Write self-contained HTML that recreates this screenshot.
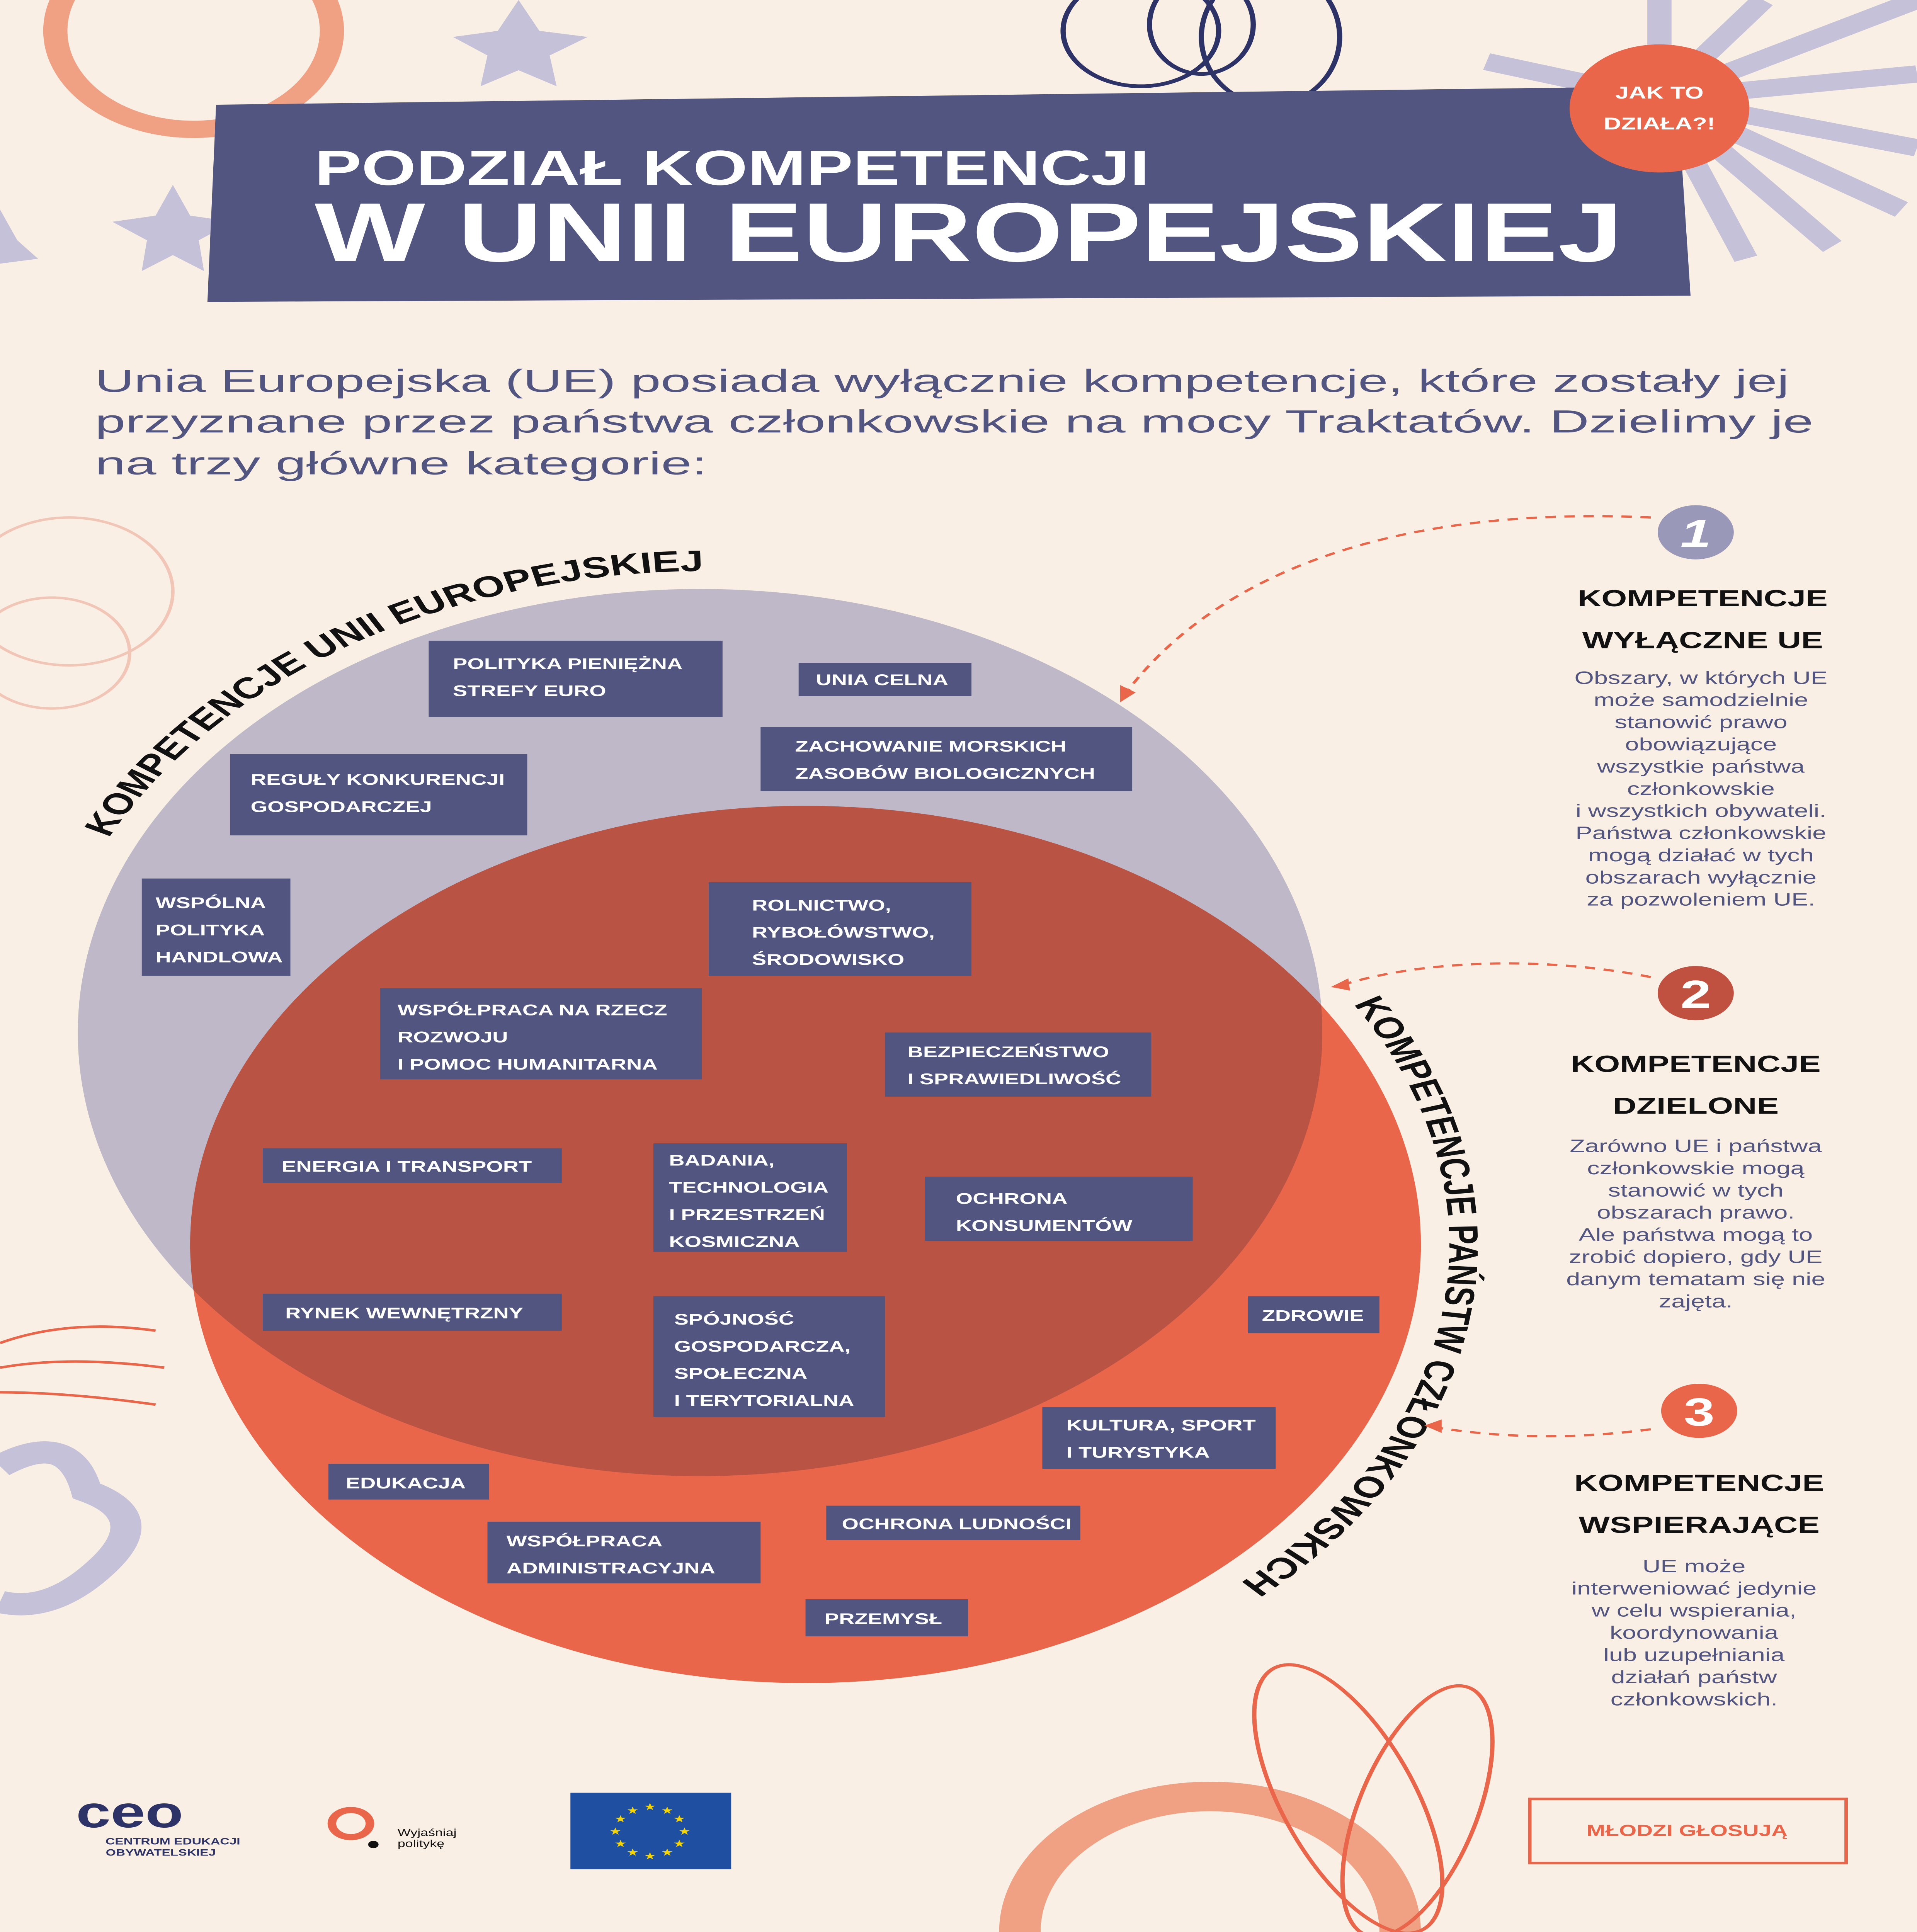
<!DOCTYPE html>
<html><head><meta charset="utf-8"><style>
html,body{margin:0;padding:0;background:#f9efe4;width:100%;height:100%;overflow:hidden;}
svg{display:block;position:absolute;left:0;top:0;width:100vw;height:100vh;}
.lb{font-family:"Liberation Sans",sans-serif;font-weight:bold;fill:#fff;font-size:12.5px;}
.hd{font-family:"Liberation Sans",sans-serif;font-weight:bold;fill:#111;font-size:19px;text-anchor:middle;}
.pt{font-family:"Liberation Sans",sans-serif;fill:#525580;font-size:14.5px;text-anchor:middle;}
</style></head><body>
<svg viewBox="0 0 1109 1568" preserveAspectRatio="none" xmlns="http://www.w3.org/2000/svg" overflow="hidden">
<defs>
<clipPath id="lav"><circle cx="405" cy="838" r="360"/></clipPath>
<path id="arcA" d="M 63 680 A 385 385 0 0 1 480 470"/>
<path id="arcB" d="M 783 815 A 372 372 0 0 1 648 1335"/>
</defs>
<rect width="1109" height="1568" fill="#f9efe4"/>
<circle cx="112" cy="25" r="80" fill="none" stroke="#f0a184" stroke-width="14"/>
<circle cx="40" cy="480" r="60" fill="none" stroke="#f2c6b6" stroke-width="2"/>
<circle cx="30" cy="530" r="45" fill="none" stroke="#f2c6b6" stroke-width="2"/>
<polygon points="300,0 312,25 340,30 318,45 322,70 300,57 278,70 282,45 262,30 288,25" fill="#c5c1d8"/>
<polygon points="0,170 10,195 22,210 0,214" fill="#c5c1d8"/>
<polygon points="100,150 110,175 135,180 115,195 118,220 100,207 82,220 85,195 65,180 90,175" fill="#c5c1d8"/>
<g stroke="#c5c1d8" stroke-width="14">
<line x1="960" y1="80" x2="1109" y2="0"/><line x1="960" y1="80" x2="1109" y2="60"/><line x1="960" y1="80" x2="1109" y2="120"/>
<line x1="960" y1="80" x2="1060" y2="200"/><line x1="960" y1="80" x2="1010" y2="210"/><line x1="960" y1="80" x2="960" y2="0"/>
<line x1="960" y1="80" x2="1020" y2="0"/><line x1="960" y1="80" x2="860" y2="50"/><line x1="960" y1="80" x2="1100" y2="170"/>
</g>
<g fill="none" stroke="#2d3366" stroke-width="3">
<ellipse cx="660" cy="25" rx="45" ry="45"/><ellipse cx="735" cy="30" rx="40" ry="55"/><ellipse cx="695" cy="20" rx="30" ry="40"/>
</g>
<path d="M0 1190 q40 -30 50 20 q40 20 10 60 q-30 40 -60 30" fill="none" stroke="#c5c1d8" stroke-width="18"/>
<g stroke="#e9664a" stroke-width="2" fill="none"><path d="M0 1090 q40 -20 90 -10"/><path d="M0 1110 q40 -10 95 0"/><path d="M0 1130 q40 0 90 10"/></g>
<circle cx="700" cy="1568" r="110" fill="none" stroke="#f0a184" stroke-width="24"/>
<ellipse cx="780" cy="1460" rx="40" ry="115" fill="none" stroke="#e9664a" stroke-width="2.5" transform="rotate(-20 780 1460)"/>
<ellipse cx="820" cy="1470" rx="35" ry="105" fill="none" stroke="#e9664a" stroke-width="2.5" transform="rotate(15 820 1470)"/>
<path d="M125 85 L970 70 L978 240 L120 245 Z" fill="#525580"/>
<text x="182" y="150" font-family="Liberation Sans,sans-serif" font-weight="bold" font-size="40" fill="#fff" textLength="483" lengthAdjust="spacingAndGlyphs">PODZIAŁ KOMPETENCJI</text>
<text x="182" y="212" font-family="Liberation Sans,sans-serif" font-weight="bold" font-size="68" fill="#fff" textLength="757" lengthAdjust="spacingAndGlyphs">W UNII EUROPEJSKIEJ</text>
<circle cx="960" cy="88" r="52" fill="#e9664a"/>
<text x="960" y="80" text-anchor="middle" font-family="Liberation Sans,sans-serif" font-weight="bold" font-size="14" fill="#fff">JAK TO</text>
<text x="960" y="105" text-anchor="middle" font-family="Liberation Sans,sans-serif" font-weight="bold" font-size="14" fill="#fff">DZIAŁA?!</text>
<g font-family="Liberation Sans,sans-serif" font-size="26" fill="#525580">
<text x="55" y="318" textLength="980" lengthAdjust="spacingAndGlyphs">Unia Europejska (UE) posiada wyłącznie kompetencje, które zostały jej</text>
<text x="55" y="351" textLength="994" lengthAdjust="spacingAndGlyphs">przyznane przez państwa członkowskie na mocy Traktatów. Dzielimy je</text>
<text x="55" y="385" textLength="354" lengthAdjust="spacingAndGlyphs">na trzy główne kategorie:</text>
</g>
<circle cx="405" cy="838" r="360" fill="#bfb8c8"/>
<circle cx="466" cy="1010" r="356" fill="#e9664a"/>
<circle cx="466" cy="1010" r="356" fill="#b95444" clip-path="url(#lav)"/>
<text font-family="Liberation Sans,sans-serif" font-weight="bold" font-size="24" fill="#111"><textPath href="#arcA">KOMPETENCJE UNII EUROPEJSKIEJ</textPath></text>
<text font-family="Liberation Sans,sans-serif" font-weight="bold" font-size="24" fill="#111"><textPath href="#arcB">KOMPETENCJE PAŃSTW CZŁONKOWSKICH</textPath></text>
<g fill="#525580">
<rect x="248" y="520" width="170" height="62"/><rect x="462" y="538" width="100" height="27"/>
<rect x="440" y="590" width="215" height="52"/><rect x="133" y="612" width="172" height="66"/>
<rect x="82" y="713" width="86" height="79"/><rect x="410" y="716" width="152" height="76"/>
<rect x="220" y="802" width="186" height="74"/><rect x="512" y="838" width="154" height="52"/>
<rect x="152" y="932" width="173" height="28"/><rect x="378" y="928" width="112" height="88"/>
<rect x="535" y="955" width="155" height="52"/><rect x="152" y="1050" width="173" height="30"/>
<rect x="378" y="1052" width="134" height="98"/><rect x="722" y="1052" width="76" height="30"/>
<rect x="603" y="1142" width="135" height="50"/><rect x="190" y="1188" width="93" height="29"/>
<rect x="282" y="1235" width="158" height="50"/><rect x="478" y="1222" width="147" height="28"/>
<rect x="466" y="1298" width="94" height="30"/>
</g>
<g class="lb">
<text x="262" y="543">POLITYKA PIENIĘŻNA</text><text x="262" y="565">STREFY EURO</text>
<text x="472" y="556">UNIA CELNA</text>
<text x="460" y="610">ZACHOWANIE MORSKICH</text><text x="460" y="632">ZASOBÓW BIOLOGICZNYCH</text>
<text x="145" y="637">REGUŁY KONKURENCJI</text><text x="145" y="659">GOSPODARCZEJ</text>
<text x="90" y="737">WSPÓLNA</text><text x="90" y="759">POLITYKA</text><text x="90" y="781">HANDLOWA</text>
<text x="435" y="739">ROLNICTWO,</text><text x="435" y="761">RYBOŁÓWSTWO,</text><text x="435" y="783">ŚRODOWISKO</text>
<text x="230" y="824">WSPÓŁPRACA NA RZECZ</text><text x="230" y="846">ROZWOJU</text><text x="230" y="868">I POMOC HUMANITARNA</text>
<text x="525" y="858">BEZPIECZEŃSTWO</text><text x="525" y="880">I SPRAWIEDLIWOŚĆ</text>
<text x="163" y="951">ENERGIA I TRANSPORT</text>
<text x="387" y="946">BADANIA,</text><text x="387" y="968">TECHNOLOGIA</text><text x="387" y="990">I PRZESTRZEŃ</text><text x="387" y="1012">KOSMICZNA</text>
<text x="553" y="977">OCHRONA</text><text x="553" y="999">KONSUMENTÓW</text>
<text x="165" y="1070">RYNEK WEWNĘTRZNY</text>
<text x="390" y="1075">SPÓJNOŚĆ</text><text x="390" y="1097">GOSPODARCZA,</text><text x="390" y="1119">SPOŁECZNA</text><text x="390" y="1141">I TERYTORIALNA</text>
<text x="730" y="1072">ZDROWIE</text>
<text x="617" y="1161">KULTURA, SPORT</text><text x="617" y="1183">I TURYSTYKA</text>
<text x="200" y="1208">EDUKACJA</text>
<text x="293" y="1255">WSPÓŁPRACA</text><text x="293" y="1277">ADMINISTRACYJNA</text>
<text x="487" y="1241">OCHRONA LUDNOŚCI</text>
<text x="477" y="1318">PRZEMYSŁ</text>
</g>
<g fill="none" stroke="#e9664a" stroke-width="1.8" stroke-dasharray="6,5">
<path d="M955 420 C 800 410, 700 470, 650 565"/>
<path d="M955 793 C 890 775, 820 780, 775 800"/>
<path d="M955 1160 C 900 1170, 860 1165, 828 1158"/>
</g>
<g fill="#e9664a"><polygon points="648,570 648,556 657,562"/><polygon points="770,801 780,794 781,804"/><polygon points="824,1157 834,1152 834,1163"/></g>
<circle cx="981" cy="432" r="22" fill="#9a98b8"/><text x="981" y="444" text-anchor="middle" font-family="Liberation Sans,sans-serif" font-weight="bold" font-size="32" font-style="italic" fill="#fff">1</text>
<circle cx="981" cy="806" r="22" fill="#c0503f"/><text x="981" y="818" text-anchor="middle" font-family="Liberation Sans,sans-serif" font-weight="bold" font-size="32" fill="#fff">2</text>
<circle cx="983" cy="1145" r="22" fill="#e9664a"/><text x="983" y="1157" text-anchor="middle" font-family="Liberation Sans,sans-serif" font-weight="bold" font-size="32" fill="#fff">3</text>
<text class="hd" x="985" y="492">KOMPETENCJE</text><text class="hd" x="985" y="526">WYŁĄCZNE UE</text>
<g class="pt"><text x="984" y="555">Obszary, w których UE</text><text x="984" y="573">może samodzielnie</text><text x="984" y="591">stanowić prawo</text><text x="984" y="609">obowiązujące</text><text x="984" y="627">wszystkie państwa</text><text x="984" y="645">członkowskie</text><text x="984" y="663">i wszystkich obywateli.</text><text x="984" y="681">Państwa członkowskie</text><text x="984" y="699">mogą działać w tych</text><text x="984" y="717">obszarach wyłącznie</text><text x="984" y="735">za pozwoleniem UE.</text></g>
<text class="hd" x="981" y="870">KOMPETENCJE</text><text class="hd" x="981" y="904">DZIELONE</text>
<g class="pt"><text x="981" y="935">Zarówno UE i państwa</text><text x="981" y="953">członkowskie mogą</text><text x="981" y="971">stanowić w tych</text><text x="981" y="989">obszarach prawo.</text><text x="981" y="1007">Ale państwa mogą to</text><text x="981" y="1025">zrobić dopiero, gdy UE</text><text x="981" y="1043">danym tematam się nie</text><text x="981" y="1061">zajęta.</text></g>
<text class="hd" x="983" y="1210">KOMPETENCJE</text><text class="hd" x="983" y="1244">WSPIERAJĄCE</text>
<g class="pt"><text x="980" y="1276">UE może</text><text x="980" y="1294">interweniować jedynie</text><text x="980" y="1312">w celu wspierania,</text><text x="980" y="1330">koordynowania</text><text x="980" y="1348">lub uzupełniania</text><text x="980" y="1366">działań państw</text><text x="980" y="1384">członkowskich.</text></g>
<text x="75" y="1483" text-anchor="middle" font-family="Liberation Sans,sans-serif" font-weight="bold" font-size="36" fill="#2d3366">ceo</text>
<text x="100" y="1497" text-anchor="middle" font-family="Liberation Sans,sans-serif" font-weight="bold" font-size="7.5" fill="#2d3366">CENTRUM EDUKACJI</text>
<text x="93" y="1506" text-anchor="middle" font-family="Liberation Sans,sans-serif" font-weight="bold" font-size="7.5" fill="#2d3366">OBYWATELSKIEJ</text>
<circle cx="203" cy="1480" r="11" fill="none" stroke="#e9664a" stroke-width="5"/><circle cx="216" cy="1497" r="3" fill="#111"/>
<text x="230" y="1490" font-family="Liberation Sans,sans-serif" font-size="8" fill="#111">Wyjaśniaj</text><text x="230" y="1499" font-family="Liberation Sans,sans-serif" font-size="8" fill="#111">politykę</text>
<rect x="330" y="1455" width="93" height="62" fill="#1f4fa0"/>
<g fill="#f5d400" font-size="8" text-anchor="middle" font-family="DejaVu Sans,sans-serif">
<text x="376" y="1469">★</text><text x="386" y="1472">★</text><text x="393" y="1479">★</text><text x="396" y="1489">★</text><text x="393" y="1499">★</text><text x="386" y="1506">★</text><text x="376" y="1509">★</text><text x="366" y="1506">★</text><text x="359" y="1499">★</text><text x="356" y="1489">★</text><text x="359" y="1479">★</text><text x="366" y="1472">★</text>
</g>
<rect x="885" y="1460" width="183" height="52" fill="none" stroke="#e9664a" stroke-width="2"/>
<text x="976" y="1490" text-anchor="middle" font-family="Liberation Sans,sans-serif" font-weight="bold" font-size="13" fill="#e9664a">MŁODZI GŁOSUJĄ</text>
</svg>
</body></html>
